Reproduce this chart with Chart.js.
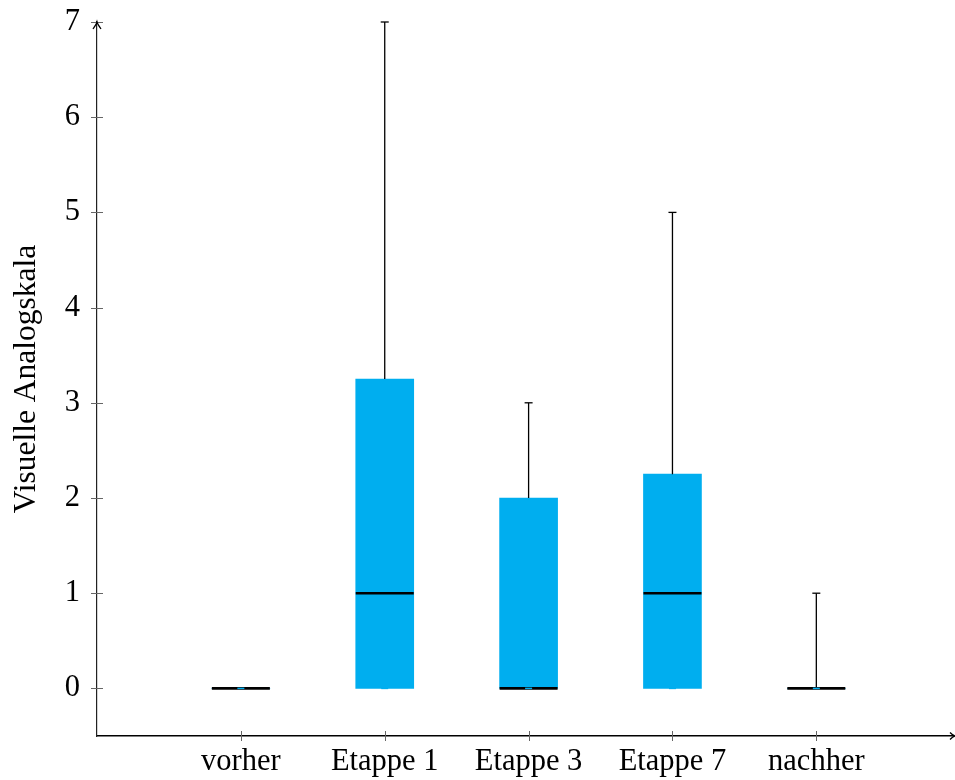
<!DOCTYPE html>
<html>
<head>
<meta charset="utf-8">
<script src="https://cdn.jsdelivr.net/npm/chart.js@4.4.1/dist/chart.umd.min.js"></script>
<style>
  html, body { margin: 0; padding: 0; background: #fff; overflow: hidden; }
</style>
</head>
<body>
<canvas id="chart_1" width="955" height="780"></canvas>
<script>
// box plot values per stage
const categories = ['vorher', 'Etappe 1', 'Etappe 3', 'Etappe 7', 'nachher'];
const positions = [1, 2, 3, 4, 5];
const minValues = [0, 0, 0, 0, 0];
const q1Values = [0, 0, 0, 0, 0];
const medianValues = [0, 1, 0, 1, 0];
const q3Values = [0, 3.25, 2, 2.25, 0];
const maxValues = [0, 7, 3, 5, 1];
const yTicks = [0, 1, 2, 3, 4, 5, 6, 7];

const boxColor = '#00aeef';
const serif = 'Liberation Serif';

// whiskers, medians, caps, tick marks and arrows
const boxPlugin = {
    id: 'boxExtras',
    afterDatasetsDraw(chart) {
        const ctx = chart.ctx;
        const xs = chart.scales.x, ys = chart.scales.y;
        const half = 29;
        ctx.save();
        for (let i = 0; i < positions.length; i++) {
            const x = xs.getPixelForValue(positions[i]);
            ctx.strokeStyle = '#000';
            ctx.lineWidth = 1.3;
            ctx.beginPath();
            ctx.moveTo(x, ys.getPixelForValue(q3Values[i]));
            ctx.lineTo(x, ys.getPixelForValue(maxValues[i]));
            ctx.moveTo(x, ys.getPixelForValue(q1Values[i]));
            ctx.lineTo(x, ys.getPixelForValue(minValues[i]));
            ctx.stroke();
            // upper cap
            const yMax = ys.getPixelForValue(maxValues[i]);
            ctx.beginPath();
            ctx.moveTo(x - 4, yMax);
            ctx.lineTo(x + 4, yMax);
            ctx.stroke();
            // median
            const yMed = ys.getPixelForValue(medianValues[i]);
            ctx.lineWidth = 2.6;
            ctx.beginPath();
            ctx.moveTo(x - half, yMed);
            ctx.lineTo(x + half, yMed);
            ctx.stroke();
            // lower cap
            const yMin = ys.getPixelForValue(minValues[i]);
            ctx.strokeStyle = boxColor;
            ctx.lineWidth = 1.5;
            ctx.beginPath();
            ctx.moveTo(x - 3.5, yMin);
            ctx.lineTo(x + 3.5, yMin);
            ctx.stroke();
        }
        ctx.restore();
    },
    afterDraw(chart) {
        const ctx = chart.ctx;
        const xs = chart.scales.x, ys = chart.scales.y;
        const area = chart.chartArea;
        ctx.save();
        ctx.strokeStyle = '#666';
        ctx.lineWidth = 1;
        ctx.beginPath();
        for (const v of yTicks) {
            const y = Math.round(ys.getPixelForValue(v)) + 0.5;
            ctx.moveTo(area.left - 6, y);
            ctx.lineTo(area.left + 6, y);
        }
        for (const v of positions) {
            const x = Math.round(xs.getPixelForValue(v)) + 0.5;
            ctx.moveTo(x, area.bottom - 5);
            ctx.lineTo(x, area.bottom + 5);
        }
        ctx.stroke();
        // arrow heads
        ctx.strokeStyle = '#000';
        ctx.lineWidth = 1.3;
        ctx.beginPath();
        ctx.moveTo(area.left - 4, area.top + 7);
        ctx.quadraticCurveTo(area.left - 0.5, area.top + 2, area.left, area.top);
        ctx.quadraticCurveTo(area.left + 0.5, area.top + 2, area.left + 4, area.top + 7);
        ctx.moveTo(area.right - 3, area.bottom - 3.5);
        ctx.quadraticCurveTo(area.right, area.bottom - 0.5, area.right + 2, area.bottom);
        ctx.quadraticCurveTo(area.right, area.bottom + 0.5, area.right - 3, area.bottom + 3.5);
        ctx.stroke();
        ctx.restore();
    }
};

new Chart('chart_1', {
    type: 'bar',
    data: {
        datasets: [{
            data: positions.map((x, i) => ({ x: x, y: [q1Values[i], q3Values[i]] })),
            backgroundColor: boxColor,
            borderWidth: 0,
            barThickness: 58,
        }]
    },
    options: {
        responsive: false,
        animation: { duration: 0 },
        layout: { padding: { top: 22, right: 2, left: 0, bottom: 0 } },
        plugins: {
            legend: { display: false },
            tooltip: { enabled: false },
        },
        scales: {
            x: {
                type: 'linear',
                min: 0,
                max: 5.95,
                offset: false,
                grid: { display: false },
                border: { display: true, color: '#000', width: 1.5 },
                afterBuildTicks: (s) => { s.ticks = positions.map(v => ({ value: v })); },
                afterFit: (s) => { s.height = 44; s.paddingLeft = 0; s.paddingRight = 0; },
                ticks: {
                    autoSkip: false,
                    maxRotation: 0,
                    padding: 0,
                    color: '#000',
                    font: { family: serif, size: 30.5 },
                    callback: (v) => categories[positions.indexOf(v)],
                },
            },
            y: {
                min: -0.5,
                max: 7,
                grid: { display: false },
                border: { display: true, color: '#222', width: 1.2 },
                afterBuildTicks: (s) => { s.ticks = yTicks.map(v => ({ value: v })); },
                afterFit: (s) => { s.width = 97; s.paddingTop = 0; s.paddingBottom = 0; },
                ticks: {
                    padding: 9,
                    color: '#000',
                    font: { family: serif, size: 30.5 },
                },
                title: {
                    display: true,
                    text: 'Visuelle Analogskala',
                    color: '#000',
                    padding: { top: 8, bottom: 0 },
                    font: { family: serif, size: 31.5 },
                },
            },
        },
    },
    plugins: [boxPlugin],
});
</script>
</body>
</html>
